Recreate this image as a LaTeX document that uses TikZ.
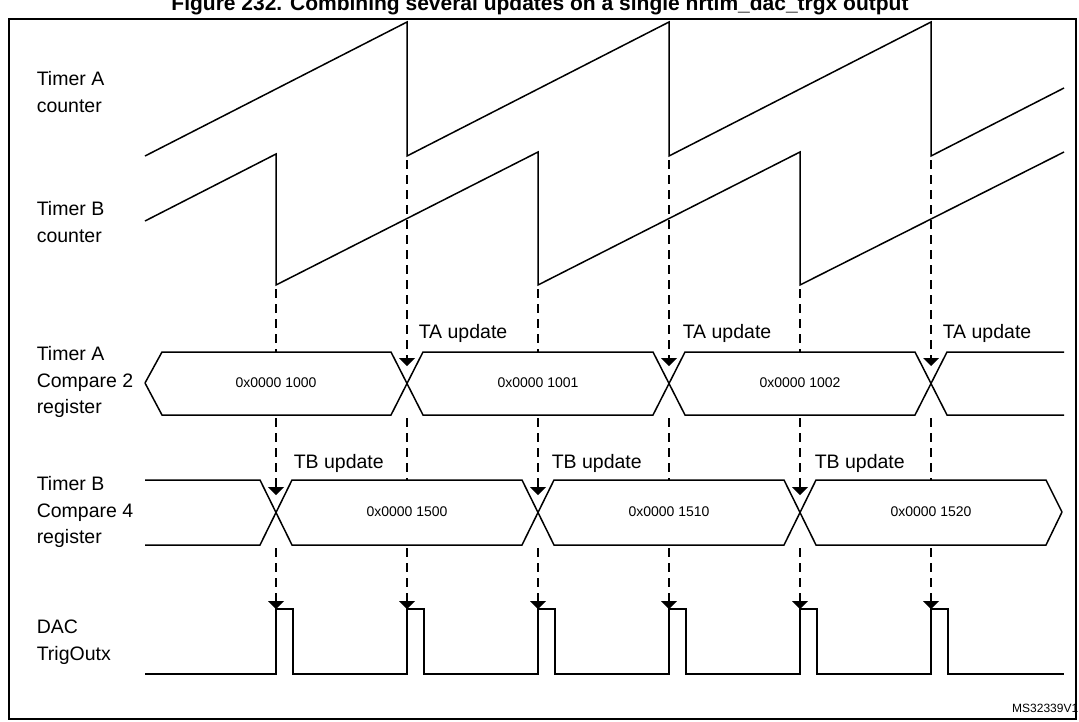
\documentclass[tikz,border=0pt]{standalone}
\usepackage{fontspec}
\setmainfont{Liberation Sans}
\begin{document}
\begin{tikzpicture}[x=1pt,y=-1pt,line width=1.5pt,
  lbl/.style={align=left,anchor=west,font=\fontsize{19.5}{26.5}\selectfont,inner sep=0},
  upd/.style={anchor=west,font=\fontsize{19.5}{20}\selectfont,inner sep=0},
  val/.style={font=\fontsize{14}{15}\selectfont,inner sep=0},
  dsh/.style={dashed,dash pattern=on 9pt off 6pt,line width=1.3pt},
  tri/.style={fill=black,line width=0pt}]
\useasboundingbox (0,0) rectangle (1079,721);
\begin{scope}
\clip (0,0) rectangle (1079,18);
\node[font=\bfseries\fontsize{21}{22}\selectfont,anchor=base] (title) at (540,10) {Figure 232. Combining several updates on a single hrtim\_dac\_trgx output};
\end{scope}
\draw[line width=2pt] (9,19) rectangle (1076,719);
% labels
\node[lbl] (la) at (36,92) {Timer A\\counter};
\node[lbl] (lb) at (36,222) {Timer B\\counter};
\node[lbl] (lc) at (36,382) {Timer A\\Compare 2\\register};
\node[lbl] (ld) at (36,512) {Timer B\\Compare 4\\register};
\node[lbl] (le) at (36,642) {DAC\\TrigOutx};
\node[font=\fontsize{12}{12}\selectfont,anchor=east,inner sep=0] (ms) at (1079,708) {MS32339V1};
% counters
\draw (145,156) -- (407,22) -- (407,156) -- (669,22) -- (669,156) -- (931,22) -- (931,156) -- (1064,88);
\draw (145,221) -- (276,154) -- (276,285) -- (538,152) -- (538,285) -- (800,152) -- (800,285) -- (1064,152);
% dashed TA lines
\foreach \x in {407,669,931}{
  \draw[dsh] (\x,160) -- (\x,360);
  \draw[dsh] (\x,418) -- (\x,480);
  \draw[dsh] (\x,548) -- (\x,602);
  \fill[tri] (\x-8,358) -- (\x+8,358) -- (\x,366) -- cycle;
  \fill[tri] (\x-8,601) -- (\x+8,601) -- (\x,609) -- cycle;
}
\foreach \x in {276,538,800}{
  \draw[dsh] (\x,289) -- (\x,352);
  \draw[dsh] (\x,418) -- (\x,488);
  \draw[dsh] (\x,548) -- (\x,602);
  \fill[tri] (\x-8,487) -- (\x+8,487) -- (\x,495) -- cycle;
  \fill[tri] (\x-8,601) -- (\x+8,601) -- (\x,609) -- cycle;
}
% TA bus
\draw (145,383) -- (162,352) -- (391,352) -- (423,415) -- (653,415) -- (685,352) -- (915,352) -- (947,415) -- (1064,415);
\draw (145,383) -- (162,415) -- (391,415) -- (423,352) -- (653,352) -- (685,415) -- (915,415) -- (947,352) -- (1064,352);
\node[val] (v1) at (276,383) {0x0000 1000};
\node[val] (v2) at (538,383) {0x0000 1001};
\node[val] (v3) at (800,383) {0x0000 1002};
\node[upd] (u1) at (418,333) {TA update};
\node[upd] (u2) at (682,333) {TA update};
\node[upd] (u3) at (942,333) {TA update};
% TB bus
\draw (145,480) -- (260,480) -- (292,545) -- (522,545) -- (554,480) -- (784,480) -- (816,545) -- (1046,545) -- (1062,512);
\draw (145,545) -- (260,545) -- (292,480) -- (522,480) -- (554,545) -- (784,545) -- (816,480) -- (1046,480) -- (1062,512);
\node[val] (w1) at (407,512) {0x0000 1500};
\node[val] (w2) at (669,512) {0x0000 1510};
\node[val] (w3) at (931,512) {0x0000 1520};
\node[upd] (t1) at (293,463) {TB update};
\node[upd] (t2) at (551,463) {TB update};
\node[upd] (t3) at (814,463) {TB update};
% DAC
\draw (145,674) \foreach \x in {276,407,538,669,800,931}{ -- (\x,674) -- (\x,609) -- (\x+17,609) -- (\x+17,674)} -- (1064,674);
\end{tikzpicture}
\end{document}
